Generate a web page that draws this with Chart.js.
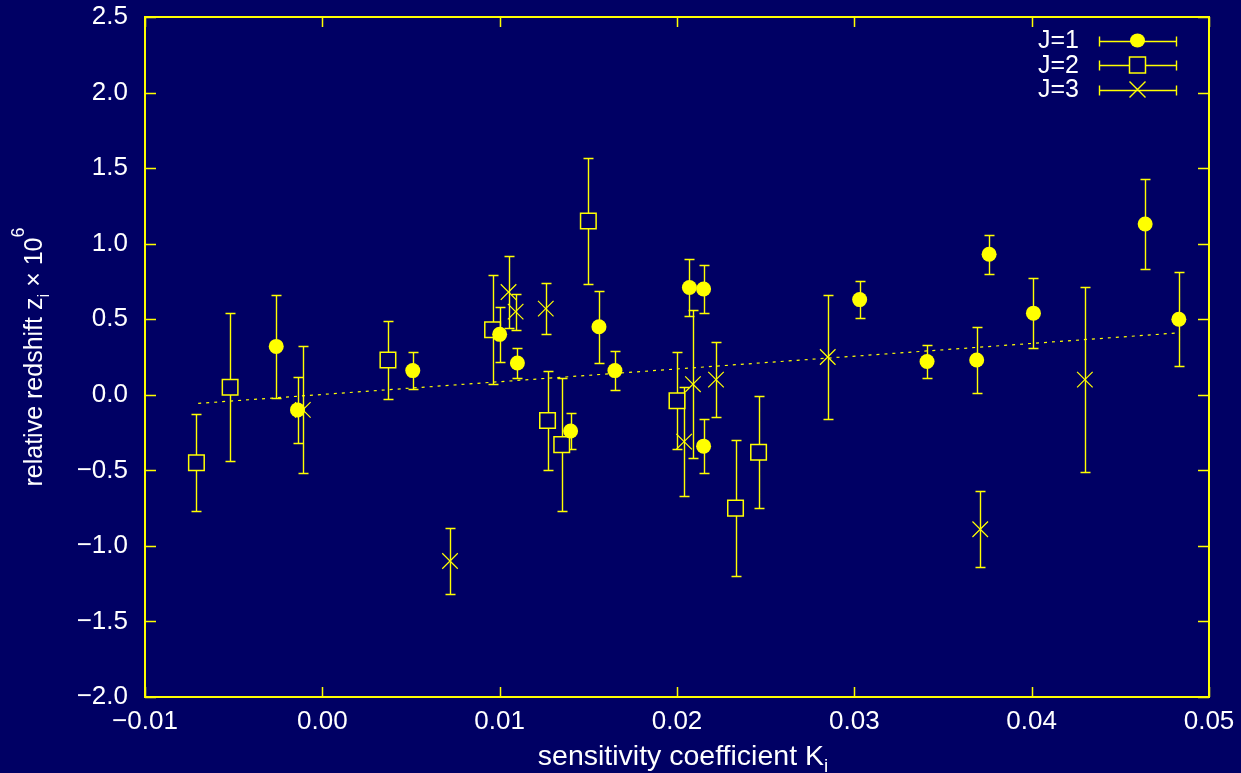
<!DOCTYPE html>
<html>
<head>
<meta charset="utf-8">
<script src="https://cdn.jsdelivr.net/npm/chart.js@4.4.1/dist/chart.umd.min.js"></script>
<style>
  html, body { margin: 0; padding: 0; background: #000064; }
  canvas { display: block; }
</style>
</head>
<body>
<canvas id="chart" width="1241" height="773"></canvas>
<script>
// ---- data ----
// J=1 : filled circles
const j1K   = [-0.0026, -0.0014, 0.0051, 0.0100, 0.0110, 0.0140, 0.0156, 0.0165, 0.0207, 0.0215, 0.0215, 0.0303, 0.0341, 0.0369, 0.0376, 0.0401, 0.0464, 0.0483];
const j1Z   = [0.32, -0.10, 0.16, 0.40, 0.21, -0.24, 0.45, 0.16, 0.71, 0.70, -0.34, 0.63, 0.22, 0.23, 0.93, 0.54, 1.13, 0.50];
const j1Err = [0.34, 0.22, 0.12, 0.18, 0.10, 0.12, 0.24, 0.13, 0.19, 0.16, 0.18, 0.12, 0.11, 0.22, 0.13, 0.23, 0.30, 0.31];

// J=2 : open squares
const j2K   = [-0.0071, -0.0052, 0.0037, 0.0096, 0.0127, 0.0135, 0.0150, 0.0200, 0.0233, 0.0246];
const j2Z   = [-0.45, 0.05, 0.23, 0.43, -0.17, -0.33, 1.15, -0.04, -0.75, -0.38];
const j2Err = [0.32, 0.49, 0.26, 0.36, 0.33, 0.44, 0.42, 0.32, 0.45, 0.37];

// J=3 : crosses
const j3K   = [-0.0011, 0.0072, 0.0105, 0.0109, 0.0126, 0.0204, 0.0209, 0.0222, 0.0285, 0.0371, 0.0430];
const j3Z   = [-0.10, -1.10, 0.68, 0.55, 0.57, -0.31, 0.07, 0.10, 0.25, -0.89, 0.10];
const j3Err = [0.42, 0.22, 0.24, 0.12, 0.17, 0.36, 0.49, 0.25, 0.41, 0.25, 0.61];

// linear fit (end points)
const fitK = [-0.0070, 0.0482];
const fitZ = [-0.057, 0.409];

const legendLabels = ['J=1', 'J=2', 'J=3'];

// ---- styles ----
const navy = '#000064';
const yellow = '#ffff00';
const fontFamily = '"Liberation Sans", Arial, Helvetica, sans-serif';

const toPoints = (xs, ys) => xs.map((x, i) => ({ x, y: ys[i] }));
const fmt = (v, d) => {
    if (Math.abs(v) < 1e-9) v = 0;
    const s = v.toFixed(d);
    return s.startsWith('-') ? '\u2212' + s.slice(1) : s;
};

// fondo azul oscuro
const background = {
    id: 'background',
    beforeDraw(chart) {
        const ctx = chart.ctx;
        ctx.save();
        ctx.fillStyle = navy;
        ctx.fillRect(0, 0, chart.width, chart.height);
        ctx.restore();
    }
};

// barras de error verticales con tapas
const errorBars = {
    id: 'errorBars',
    beforeDatasetsDraw(chart) {
        const { ctx, scales: { x, y } } = chart;
        ctx.save();
        ctx.strokeStyle = yellow;
        ctx.lineWidth = 1.4;
        ctx.beginPath();
        chart.data.datasets.forEach(ds => {
            if (!ds.errors) return;
            ds.data.forEach((p, i) => {
                const px = Math.round(x.getPixelForValue(p.x)) + 0.5;
                const top = Math.round(y.getPixelForValue(p.y + ds.errors[i])) + 0.5;
                const bot = Math.round(y.getPixelForValue(p.y - ds.errors[i])) + 0.5;
                ctx.moveTo(px, top); ctx.lineTo(px, bot);
                ctx.moveTo(px - 5, top); ctx.lineTo(px + 5, top);
                ctx.moveTo(px - 5, bot); ctx.lineTo(px + 5, bot);
            });
        });
        ctx.stroke();
        ctx.restore();
    }
};

// marco con marcas hacia adentro en los cuatro lados
const frame = {
    id: 'frame',
    afterDraw(chart) {
        const { ctx, chartArea: a, scales: { x, y } } = chart;
        ctx.save();
        ctx.strokeStyle = yellow;
        ctx.lineWidth = 1.5;
        ctx.beginPath();
        x.ticks.forEach(t => {
            const px = Math.round(x.getPixelForValue(t.value)) + 0.5;
            ctx.moveTo(px, a.bottom); ctx.lineTo(px, a.bottom - 10);
            ctx.moveTo(px, a.top); ctx.lineTo(px, a.top + 10);
        });
        y.ticks.forEach(t => {
            const py = Math.round(y.getPixelForValue(t.value)) + 0.5;
            ctx.moveTo(a.left, py); ctx.lineTo(a.left + 11, py);
            ctx.moveTo(a.right, py); ctx.lineTo(a.right - 11, py);
        });
        ctx.stroke();
        ctx.lineWidth = 2;
        ctx.strokeRect(a.left, a.top, a.right - a.left, a.bottom - a.top);
        ctx.restore();
    }
};

// dibuja texto con sub/superíndices
function drawRich(ctx, parts, startX, baseY) {
    let cx = startX;
    parts.forEach(p => {
        ctx.font = p.size + 'px ' + fontFamily;
        ctx.fillText(p.t, cx, baseY + p.dy);
        cx += ctx.measureText(p.t).width;
    });
}
function richWidth(ctx, parts) {
    return parts.reduce((w, p) => {
        ctx.font = p.size + 'px ' + fontFamily;
        return w + ctx.measureText(p.t).width;
    }, 0);
}

const axisTitles = {
    id: 'axisTitles',
    afterDraw(chart) {
        const { ctx, chartArea: a } = chart;
        ctx.save();
        ctx.fillStyle = '#ffffff';
        ctx.textBaseline = 'alphabetic';
        ctx.textAlign = 'left';

        const xParts = [
            { t: 'sensitivity coefficient K', size: 28.5, dy: 0 },
            { t: 'i', size: 19, dy: 7 }
        ];
        const xw = richWidth(ctx, xParts);
        drawRich(ctx, xParts, 683 - xw / 2, 765);

        const yParts = [
            { t: 'relative redshift z', size: 25, dy: 0 },
            { t: 'i', size: 17, dy: 7 },
            { t: ' \u00d7 10', size: 25, dy: 0 },
            { t: '6', size: 18, dy: -18 }
        ];
        const yw = richWidth(ctx, yParts);
        ctx.translate(42, (a.top + a.bottom) / 2);
        ctx.rotate(-Math.PI / 2);
        drawRich(ctx, yParts, -yw / 2, 0);
        ctx.restore();
    }
};

// leyenda estilo gnuplot: texto a la derecha, muestra con barra de error horizontal
const errLegend = {
    id: 'errLegend',
    afterDraw(chart) {
        const ctx = chart.ctx;
        ctx.save();
        ctx.font = '25px ' + fontFamily;
        ctx.fillStyle = '#ffffff';
        ctx.textAlign = 'right';
        ctx.textBaseline = 'middle';
        ctx.strokeStyle = yellow;
        ctx.lineWidth = 1.4;
        const rows = [40.5, 65, 89.5];
        const x0 = 1099, x1 = 1176, xm = (x0 + x1) / 2;
        legendLabels.forEach((label, i) => {
            const ry = rows[i];
            ctx.fillText(label, 1079, ry + 1);
            const ly = Math.round(ry) + 0.5;
            ctx.beginPath();
            ctx.moveTo(x0 + 0.5, ly); ctx.lineTo(x1 + 0.5, ly);
            ctx.moveTo(x0 + 0.5, ly - 5); ctx.lineTo(x0 + 0.5, ly + 5);
            ctx.moveTo(x1 + 0.5, ly - 5); ctx.lineTo(x1 + 0.5, ly + 5);
            ctx.stroke();
            if (i === 0) {
                ctx.fillStyle = yellow;
                ctx.beginPath();
                ctx.ellipse(xm, ry, 7.5, 7, 0, 0, Math.PI * 2);
                ctx.fill();
                ctx.fillStyle = '#ffffff';
            } else if (i === 1) {
                ctx.fillStyle = navy;
                ctx.fillRect(xm - 8, ry - 8, 16, 16);
                ctx.lineWidth = 1.5;
                ctx.strokeRect(xm - 8, ry - 8, 16, 16);
                ctx.lineWidth = 1.4;
                ctx.fillStyle = '#ffffff';
            } else {
                ctx.beginPath();
                ctx.moveTo(xm - 8, ry - 8); ctx.lineTo(xm + 8, ry + 8);
                ctx.moveTo(xm - 8, ry + 8); ctx.lineTo(xm + 8, ry - 8);
                ctx.stroke();
            }
        });
        ctx.restore();
    }
};

const ctx = document.getElementById('chart').getContext('2d');

new Chart(ctx, {
    type: 'scatter',
    data: {
        datasets: [
            {
                type: 'line',
                label: 'fit',
                data: toPoints(fitK, fitZ),
                borderColor: yellow,
                borderWidth: 1.2,
                borderDash: [3, 5],
                pointRadius: 0,
                fill: false
            },
            {
                label: legendLabels[0],
                data: toPoints(j1K, j1Z),
                errors: j1Err,
                pointStyle: 'circle',
                pointRadius: 7.5,
                backgroundColor: yellow,
                borderColor: yellow,
                borderWidth: 0
            },
            {
                label: legendLabels[1],
                data: toPoints(j2K, j2Z),
                errors: j2Err,
                pointStyle: 'rect',
                pointRadius: 11,
                backgroundColor: navy,
                borderColor: yellow,
                borderWidth: 1.5
            },
            {
                label: legendLabels[2],
                data: toPoints(j3K, j3Z),
                errors: j3Err,
                pointStyle: 'crossRot',
                pointRadius: 11,
                borderColor: yellow,
                borderWidth: 1.2
            }
        ]
    },
    options: {
        responsive: false,
        animation: false,
        events: [],
        layout: { padding: { left: 0, top: 17, right: 32, bottom: 0 } },
        plugins: {
            legend: { display: false },
            tooltip: { enabled: false },
            title: { display: false }
        },
        scales: {
            x: {
                type: 'linear',
                min: -0.01,
                max: 0.05,
                grid: { display: false, drawTicks: false },
                border: { display: false },
                ticks: {
                    stepSize: 0.01,
                    color: '#ffffff',
                    padding: 9,
                    maxRotation: 0,
                    font: { family: fontFamily, size: 26 },
                    callback: v => fmt(v, 2)
                },
                afterFit: s => { s.height = 76; s.paddingLeft = 0; s.paddingRight = 0; }
            },
            y: {
                type: 'linear',
                min: -2.0,
                max: 2.5,
                grid: { display: false, drawTicks: false },
                border: { display: false },
                ticks: {
                    stepSize: 0.5,
                    color: '#ffffff',
                    padding: 17,
                    font: { family: fontFamily, size: 26 },
                    callback: v => fmt(v, 1)
                },
                afterFit: s => { s.width = 145; s.paddingTop = 0; s.paddingBottom = 0; }
            }
        }
    },
    plugins: [background, errorBars, frame, axisTitles, errLegend]
});
</script>
</body>
</html>
